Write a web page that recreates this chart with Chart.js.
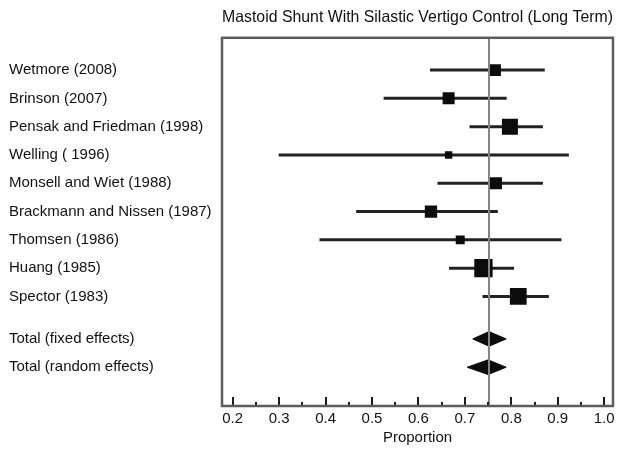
<!DOCTYPE html>
<html>
<head>
<meta charset="utf-8">
<script src="https://cdn.jsdelivr.net/npm/chart.js@4"></script>
<style>
  html, body { margin: 0; padding: 0; background: #fff; }
  #wrap { width: 617px; height: 454px; }
</style>
</head>
<body>
<div id="wrap"><canvas id="c" width="617" height="454"></canvas></div>
<script>
// ---- data ----
const studies = ["Wetmore (2008)", "Brinson (2007)", "Pensak and Friedman (1998)", "Welling ( 1996)",
  "Monsell and Wiet (1988)", "Brackmann and Nissen (1987)", "Thomsen (1986)", "Huang (1985)", "Spector (1983)"];
const estimates = [0.765, 0.665, 0.797, 0.665, 0.767, 0.627, 0.690, 0.740, 0.815];
const lower     = [0.625, 0.525, 0.710, 0.299, 0.641, 0.466, 0.387, 0.666, 0.738];
const upper     = [0.872, 0.790, 0.868, 0.924, 0.868, 0.771, 0.908, 0.806, 0.881];
const weights   = [8.7, 9.1, 16.2, 3.4, 9.1, 9.6, 5.1, 21.2, 17.7]; // % weight
const totalLabels = ["Total (fixed effects)", "Total (random effects)"];
const totalEst   = [0.752, 0.750];
const totalLower = [0.717, 0.705];
const totalUpper = [0.789, 0.789];
const refValue = 0.752;
const xTickLabels = ["0.2", "0.3", "0.4", "0.5", "0.6", "0.7", "0.8", "0.9", "1.0"];

// ---- layout helpers ----
const studyRows = studies.map((_, i) => i + 1);
const totalRows = [10.5, 11.5];
const rowLabel = {};
studies.forEach((s, i) => rowLabel[studyRows[i]] = s);
totalLabels.forEach((s, i) => rowLabel[totalRows[i]] = s);

const FONT = "'Liberation Sans', Arial, sans-serif";
const datasets = [];

// squares (weight -> area)
datasets.push({
  type: 'scatter',
  data: studies.map((_, i) => ({ x: estimates[i], y: studyRows[i] })),
  pointStyle: 'rect',
  pointRadius: weights.map(w => Math.sqrt(w) * 3.98 / 1.4142),
  pointHoverRadius: weights.map(w => Math.sqrt(w) * 3.98 / 1.4142),
  backgroundColor: '#0c0c0c',
  borderColor: '#0c0c0c',
  borderWidth: 0,
  order: 2
});

// CI lines
studies.forEach((_, i) => {
  datasets.push({
    type: 'line',
    data: [{ x: lower[i], y: studyRows[i] }, { x: upper[i], y: studyRows[i] }],
    borderColor: '#222',
    borderWidth: 3,
    pointRadius: 0,
    fill: false,
    order: 3
  });
});

// diamonds
const dh = 0.26;
totalLabels.forEach((_, i) => {
  const r = totalRows[i];
  datasets.push({
    type: 'line',
    data: [
      { x: totalLower[i], y: r }, { x: totalEst[i], y: r - dh },
      { x: totalUpper[i], y: r }, { x: totalEst[i], y: r + dh },
      { x: totalLower[i], y: r }
    ],
    borderColor: '#0c0c0c',
    backgroundColor: '#0c0c0c',
    borderWidth: 1,
    pointRadius: 0,
    tension: 0,
    fill: 'shape',
    order: 2
  });
});

// reference line
datasets.push({
  type: 'line',
  data: [{ x: refValue, y: -0.14 }, { x: refValue, y: 12.87 }],
  borderColor: '#858585',
  borderWidth: 2,
  pointRadius: 0,
  fill: false,
  order: 1
});

const framePlugin = {
  id: 'frame',
  afterDatasetsDraw(chart) {
    const { ctx, chartArea: a, scales } = chart;
    const xs = scales.x;
    ctx.save();
    ctx.strokeStyle = '#1a1a1a';
    ctx.lineWidth = 2;
    xs.ticks.forEach(t => {
      const v = t.value;
      const major = Math.abs(Math.round(v * 10) - v * 10) < 1e-6;
      const px = Math.round(xs.getPixelForValue(v));
      ctx.beginPath();
      ctx.moveTo(px, a.bottom);
      ctx.lineTo(px, a.bottom - (major ? 9 : 4));
      ctx.stroke();
    });
    ctx.strokeStyle = '#5c5c5c';
    ctx.lineWidth = 2.5;
    ctx.strokeRect(a.left, a.top, a.right - a.left, a.bottom - a.top);
    ctx.restore();
  }
};

const zeroPad = (s) => { s.paddingLeft = 0; s.paddingRight = 0; };

new Chart(document.getElementById('c'), {
  data: { datasets },
  plugins: [framePlugin],
  options: {
    responsive: false,
    animation: false,
    layout: { autoPadding: false, padding: { left: 9, right: 4, top: 0, bottom: 7 } },
    plugins: {
      legend: { display: false },
      tooltip: { enabled: false },
      title: {
        display: true,
        text: 'Mastoid Shunt With Silastic Vertigo Control (Long Term)',
        fullSize: false,
        color: '#111',
        font: { family: FONT, size: 16.5, weight: 'normal' },
        padding: { top: 8, bottom: 10 }
      }
    },
    scales: {
      x: {
        type: 'linear',
        min: 0.177,
        max: 1.019,
        grid: { display: false, drawTicks: false },
        border: { display: false },
        afterFit: zeroPad,
        afterUpdate: zeroPad,
        ticks: {
          stepSize: 0.05,
          includeBounds: false,
          autoSkip: false,
          maxRotation: 0,
          padding: 4,
          color: '#111',
          font: { family: FONT, size: 15 },
          callback: (v) => {
            const k = Math.round(v * 10);
            if (Math.abs(k - v * 10) > 1e-6) return '';
            return xTickLabels[k - 2] ?? '';
          }
        },
        title: {
          display: true,
          text: 'Proportion',
          color: '#111',
          font: { family: FONT, size: 15 },
          padding: { top: -3, bottom: 0 }
        }
      },
      y: {
        type: 'linear',
        reverse: true,
        min: -0.14,
        max: 12.87,
        grid: { display: false, drawTicks: false },
        border: { display: false },
        afterBuildTicks: (s) => { s.ticks = studyRows.concat(totalRows).map(v => ({ value: v })); },
        afterFit: (s) => { s.width = 213; },
        ticks: {
          autoSkip: false,
          crossAlign: 'far',
          color: '#111',
          font: { family: FONT, size: 15 },
          callback: (v) => rowLabel[v] ?? ''
        }
      }
    }
  }
});
</script>
</body>
</html>
